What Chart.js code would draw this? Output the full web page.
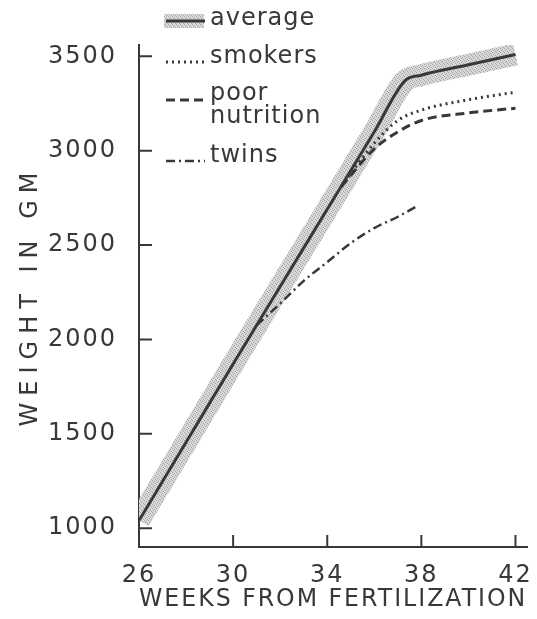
<!DOCTYPE html>
<html>
<head>
<meta charset="utf-8">
<script src="https://cdn.jsdelivr.net/npm/chart.js@4.4.0/dist/chart.umd.min.js"></script>
<style>
    body { margin: 0; background: #ffffff; }
    canvas { display: block; }
</style>
</head>
<body>
<canvas id="weightChart" width="537" height="619"></canvas>
<script>
// =========================
// Chart Data
// =========================

const seriesNames = ["average", "smokers", "poor nutrition", "twins"];

const avgWeeks = [26, 28, 30, 32, 34, 36, 37.3, 38, 40, 42];
const avgWeight = [1040, 1455, 1870, 2280, 2690, 3100, 3370, 3400, 3455, 3510];

const smokersWeeks = [34.6, 36, 37, 38, 40, 42];
const smokersWeight = [2810, 3040, 3160, 3215, 3270, 3310];

const poorWeeks = [34.6, 36, 37, 38, 40, 42];
const poorWeight = [2810, 3010, 3100, 3160, 3200, 3225];

const twinsWeeks = [31, 32, 33, 34, 35, 36, 37, 37.8];
const twinsWeight = [2075, 2190, 2310, 2410, 2510, 2590, 2650, 2705];

const xTicks = [26, 30, 34, 38, 42];
const yTicks = [1000, 1500, 2000, 2500, 3000, 3500];

// =========================
// Styles
// =========================

const ink = "#383838";
const fontFamily = "'DejaVu Sans', sans-serif";

const dashes = {
    "average": [],
    "smokers": [2, 4],
    "poor nutrition": [9, 5],
    "twins": [9, 4, 2, 4]
};

function toPoints(weeks, weights) {
    return weeks.map((w, i) => ({ x: w, y: weights[i] }));
}

const canvas = document.getElementById("weightChart");
const ctx = canvas.getContext("2d");

// stippled grey for the average band
function makeStipple() {
    const tile = document.createElement("canvas");
    tile.width = 4;
    tile.height = 4;
    const g = tile.getContext("2d");
    g.fillStyle = "#d9d9d9";
    g.fillRect(0, 0, 4, 4);
    g.fillStyle = "#a4a4a4";
    g.fillRect(0, 0, 1, 1);
    g.fillRect(2, 1, 1, 1);
    g.fillRect(1, 2, 1, 1);
    g.fillRect(3, 3, 1, 1);
    return ctx.createPattern(tile, "repeat");
}

const stipple = makeStipple();

// =========================
// Plugins
// =========================

// wide lettering like the printed figure; the y title is spaced out more
const letterSpacing = {
    id: "letterSpacing",
    beforeDraw(chart) {
        chart.ctx.letterSpacing = "2px";
        const y = chart.scales.y;
        if (!y._spacedTitle) {
            const drawTitle = y.drawTitle;
            y.drawTitle = function () {
                this.ctx.letterSpacing = "7px";
                drawTitle.call(this);
                this.ctx.letterSpacing = "2px";
            };
            y._spacedTitle = true;
        }
    }
};

// tick marks point into the plot
const inwardTicks = {
    id: "inwardTicks",
    afterDraw(chart) {
        const c = chart.ctx;
        const x = chart.scales.x;
        const y = chart.scales.y;
        const area = chart.chartArea;
        c.save();
        c.strokeStyle = ink;
        c.lineWidth = 2;
        c.setLineDash([]);
        c.beginPath();
        yTicks.forEach(v => {
            const py = y.getPixelForValue(v);
            c.moveTo(area.left, py);
            c.lineTo(area.left + 13, py);
        });
        xTicks.slice(1).forEach(v => {
            const px = x.getPixelForValue(v);
            c.moveTo(px, area.bottom);
            c.lineTo(px, area.bottom - 12);
        });
        c.stroke();
        c.restore();
    }
};

const paperLegend = {
    id: "paperLegend",
    afterDraw(chart) {
        const c = chart.ctx;
        const rows = [
            { name: "average", lines: ["average"], ty: 19, sy: 21 },
            { name: "smokers", lines: ["smokers"], ty: 57, sy: 62 },
            { name: "poor nutrition", lines: ["poor", "nutrition"], ty: 94, sy: 100 },
            { name: "twins", lines: ["twins"], ty: 156, sy: 161 }
        ];
        c.save();
        c.letterSpacing = "1px";
        c.font = "24px " + fontFamily;
        c.fillStyle = ink;
        c.textBaseline = "middle";
        rows.forEach(row => {
            if (row.name === "average") {
                c.fillStyle = stipple;
                c.fillRect(164, row.sy - 7, 40, 14);
                c.fillStyle = ink;
            }
            c.strokeStyle = ink;
            c.lineWidth = row.name === "twins" ? 2.5 : 3;
            c.setLineDash(dashes[row.name]);
            c.beginPath();
            c.moveTo(166, row.sy);
            c.lineTo(205, row.sy);
            c.stroke();
            c.setLineDash([]);
            row.lines.forEach((t, i) => {
                c.fillText(t, 210, row.ty + i * 23);
            });
        });
        c.restore();
    }
};

// =========================
// Create Chart
// =========================

const chart = new Chart(canvas, {
    type: "line",
    data: {
        datasets: [
            {
                label: seriesNames[0],
                data: toPoints(avgWeeks, avgWeight),
                borderColor: ink,
                borderWidth: 3,
                order: 0
            },
            {
                label: seriesNames[1],
                data: toPoints(smokersWeeks, smokersWeight),
                borderColor: ink,
                borderWidth: 3,
                borderDash: dashes["smokers"],
                order: 1
            },
            {
                label: seriesNames[2],
                data: toPoints(poorWeeks, poorWeight),
                borderColor: ink,
                borderWidth: 3,
                borderDash: dashes["poor nutrition"],
                order: 2
            },
            {
                label: seriesNames[3],
                data: toPoints(twinsWeeks, twinsWeight),
                borderColor: ink,
                borderWidth: 2.5,
                borderDash: dashes["twins"],
                order: 3
            },
            {
                label: "average band",
                data: toPoints(avgWeeks, avgWeight),
                borderColor: stipple,
                borderWidth: 22,
                borderCapStyle: "butt",
                order: 9
            }
        ]
    },
    options: {
        responsive: false,
        animation: false,
        layout: {
            padding: { top: 45, right: 8, left: 0, bottom: 0 }
        },
        elements: {
            point: { radius: 0 },
            line: { cubicInterpolationMode: "monotone", fill: false }
        },
        plugins: {
            legend: { display: false },
            tooltip: { enabled: false }
        },
        scales: {
            x: {
                type: "linear",
                min: 26,
                max: 42.5,
                afterBuildTicks(scale) {
                    scale.ticks = xTicks.map(v => ({ value: v }));
                },
                afterFit(scale) {
                    scale.height = 72;
                },
                grid: { display: false },
                border: { display: true, color: ink, width: 2 },
                ticks: {
                    color: ink,
                    padding: 6,
                    maxRotation: 0,
                    font: { family: fontFamily, size: 24 },
                    callback: v => String(v)
                },
                title: {
                    display: true,
                    text: "WEEKS FROM FERTILIZATION",
                    color: ink,
                    padding: { top: 0, bottom: 5 },
                    font: { family: fontFamily, size: 24 }
                }
            },
            y: {
                type: "linear",
                min: 900,
                max: 3560,
                afterBuildTicks(scale) {
                    scale.ticks = yTicks.map(v => ({ value: v }));
                },
                afterFit(scale) {
                    scale.width = 139;
                },
                grid: { display: false },
                border: { display: true, color: ink, width: 2 },
                ticks: {
                    color: ink,
                    padding: 14,
                    font: { family: fontFamily, size: 24 },
                    callback: v => String(v)
                },
                title: {
                    display: true,
                    text: "WEIGHT IN GM",
                    color: ink,
                    padding: { top: 16, bottom: 0 },
                    font: { family: fontFamily, size: 24 }
                }
            }
        }
    },
    plugins: [letterSpacing, inwardTicks, paperLegend]
});
</script>
</body>
</html>
